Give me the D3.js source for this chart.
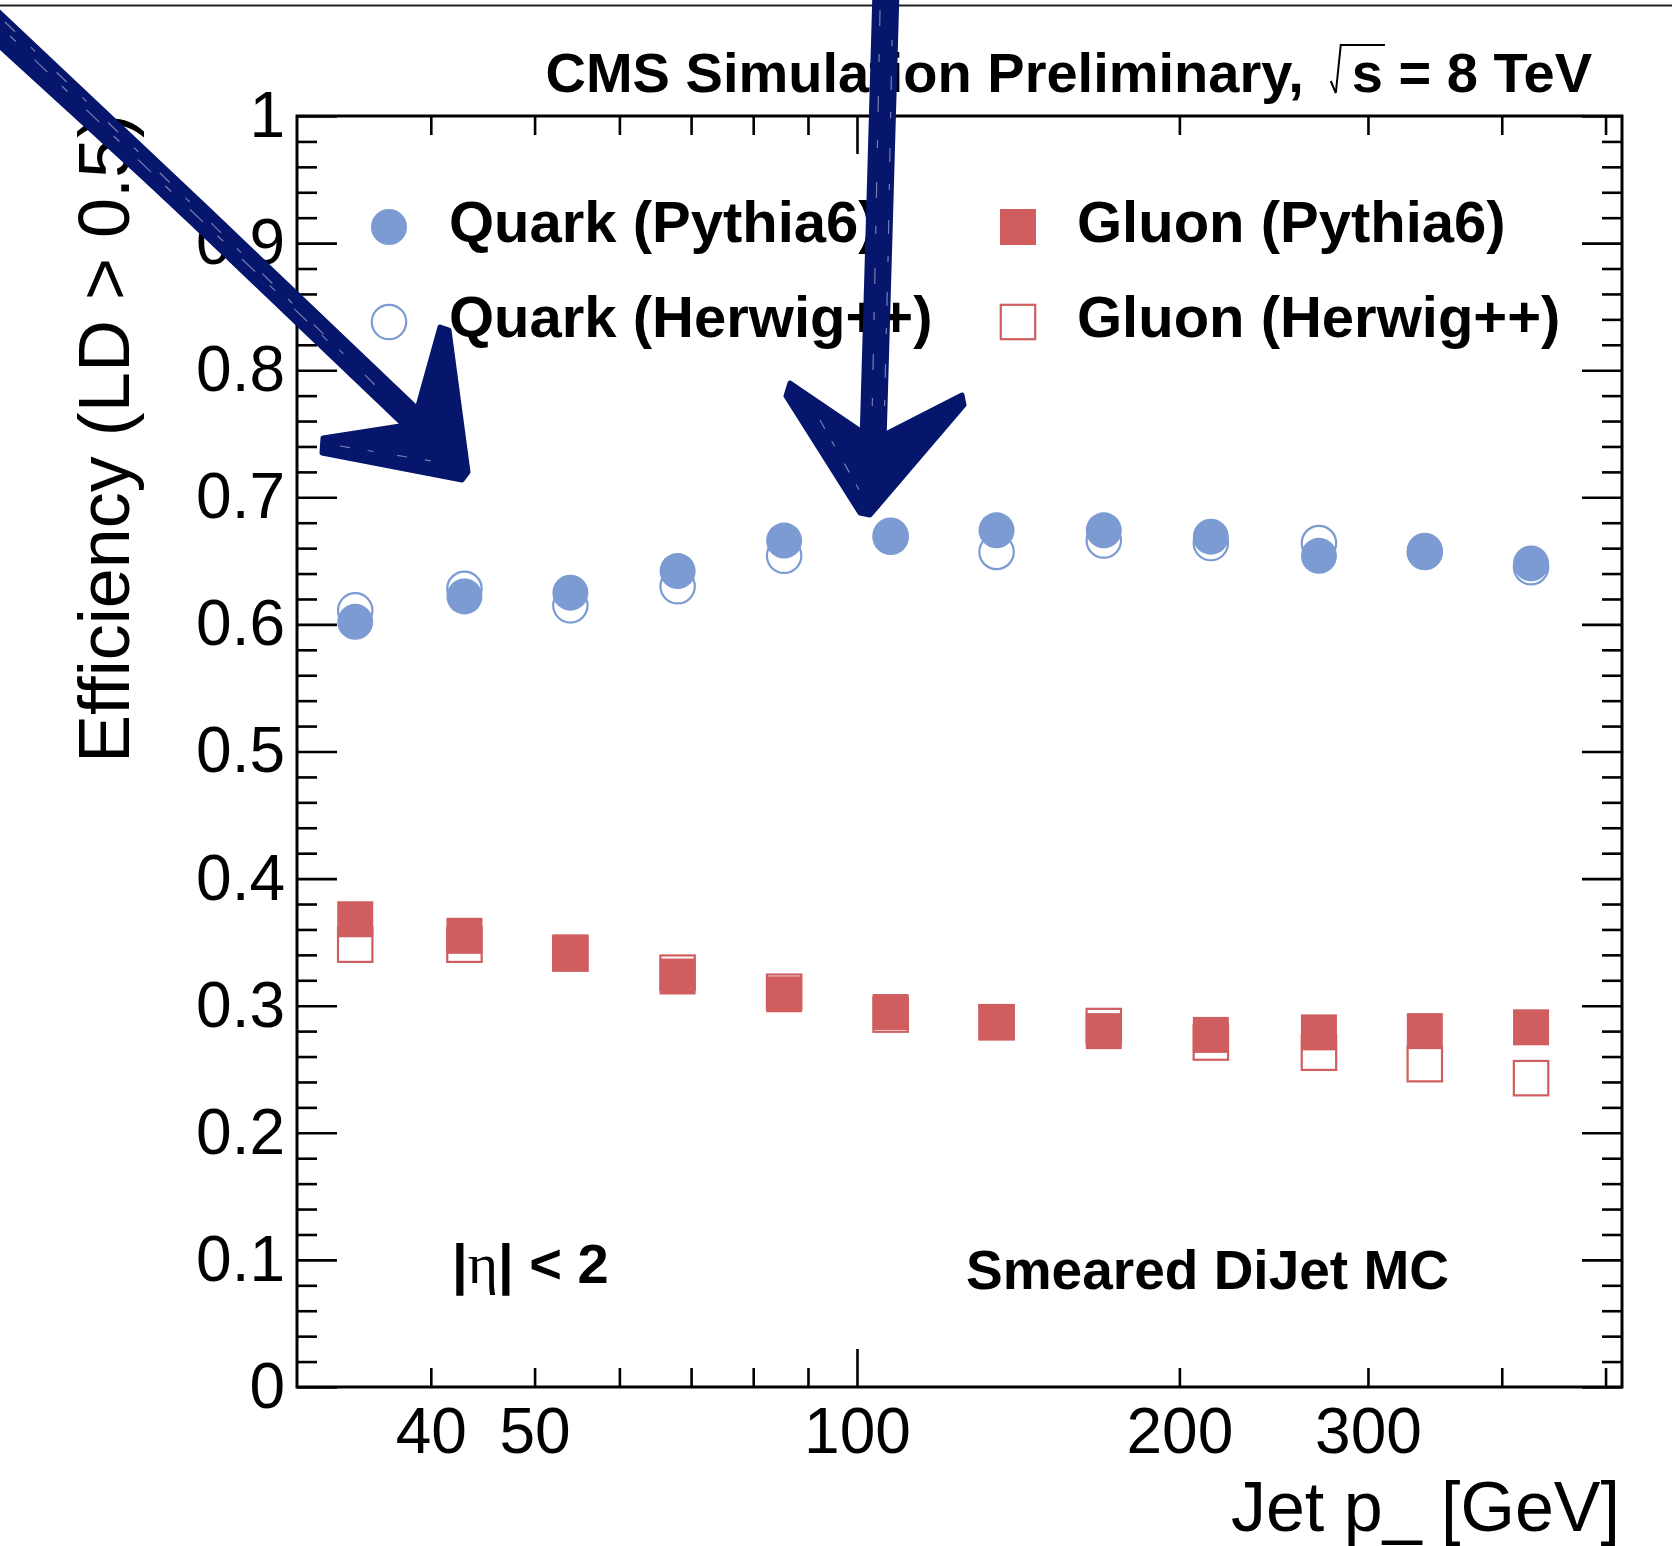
<!DOCTYPE html>
<html>
<head>
<meta charset="utf-8">
<script src="https://cdn.jsdelivr.net/npm/d3@7"></script>
<style>
  html, body { margin: 0; padding: 0; background: #fff; }
  svg { display: block; }
  text { font-family: 'Liberation Sans', Arial, Helvetica, sans-serif; }
</style>
</head>
<body>
<svg width="1672" height="1546"></svg>
<script>
// jet pt bin centres [GeV]
var ptBins = [34, 43, 54, 68, 85.5, 107.5, 135, 170, 214, 270, 339, 426]

// efficiency LD > 0.5
var quarkPythia = [0.602, 0.622, 0.625, 0.642, 0.666, 0.670, 0.674, 0.674, 0.669, 0.654, 0.658, 0.648]
var quarkHerwig = [0.611, 0.628, 0.615, 0.630, 0.654, 0.669, 0.657, 0.666, 0.664, 0.664, 0.657, 0.645]
var gluonPythia = [0.368, 0.355, 0.342, 0.323, 0.309, 0.295, 0.287, 0.280, 0.277, 0.279, 0.280, 0.283]
var gluonHerwig = [0.348, 0.348, 0.341, 0.326, 0.311, 0.293, 0.287, 0.284, 0.271, 0.263, 0.254, 0.243]

var legendNames = ['Quark (Pythia6)', 'Quark (Herwig++)', 'Gluon (Pythia6)', 'Gluon (Herwig++)']

var xMinorTicks = [40, 50, 60, 70, 80, 90, 200, 300, 400, 500]
var xMajorTicks = [100]
var xLabelled = [40, 50, 100, 200, 300]
var yMajorTicks = d3.range(0, 11).map(function (i) { return i / 10 })
var yMinorTicks = d3.range(0, 51).map(function (i) { return i / 50 }).filter(function (d, i) { return i % 5 !== 0 })

;(function (d3) {
  var svg = d3.select('svg')
  var blue = '#7b9bd2'
  var red = '#d05e5f'
  var navy = '#05166c'

  var L = 297, R = 1622, T = 116, B = 1387

  var x = d3.scaleLog().domain([30, 518]).range([L, R])
  var y = d3.scaleLinear().domain([0, 1]).range([B, T])

  // thin rule across the top of the picture
  svg.append('line')
    .attr('x1', 0).attr('x2', 1672).attr('y1', 5.5).attr('y2', 5.5)
    .style('stroke', '#222').style('stroke-width', 2)

  function styleAxis (g) {
    g.select('.domain').remove()
    g.selectAll('line').style('stroke', '#000').style('stroke-width', 2.6)
    g.selectAll('text').style('font-size', '64px').style('fill', '#000')
      .style('font-family', "'Liberation Sans', Arial, sans-serif")
  }

  // y axes (left labelled, right mirrored)
  svg.append('g').attr('transform', 'translate(' + L + ',0)')
    .call(d3.axisLeft(y).tickValues(yMajorTicks).tickSize(-40).tickPadding(12)
      .tickFormat(function (d) { return d === 0 ? '0' : d === 1 ? '1' : d3.format('.1f')(d) }))
    .call(styleAxis)
  svg.append('g').attr('transform', 'translate(' + L + ',0)')
    .call(d3.axisLeft(y).tickValues(yMinorTicks).tickSize(-20).tickFormat(''))
    .call(styleAxis)
  svg.append('g').attr('transform', 'translate(' + R + ',0)')
    .call(d3.axisRight(y).tickValues(yMajorTicks).tickSize(-40).tickFormat(''))
    .call(styleAxis)
  svg.append('g').attr('transform', 'translate(' + R + ',0)')
    .call(d3.axisRight(y).tickValues(yMinorTicks).tickSize(-20).tickFormat(''))
    .call(styleAxis)

  // x axes (bottom labelled, top mirrored)
  function xFmt (d) { return xLabelled.indexOf(d) >= 0 ? String(d) : '' }
  svg.append('g').attr('transform', 'translate(0,' + B + ')')
    .call(d3.axisBottom(x).tickValues(xMinorTicks).tickSize(-19).tickPadding(21).tickFormat(xFmt))
    .call(styleAxis)
  svg.append('g').attr('transform', 'translate(0,' + B + ')')
    .call(d3.axisBottom(x).tickValues(xMajorTicks).tickSize(-38).tickPadding(21).tickFormat(xFmt))
    .call(styleAxis)
  svg.append('g').attr('transform', 'translate(0,' + T + ')')
    .call(d3.axisTop(x).tickValues(xMinorTicks).tickSize(-19).tickFormat(''))
    .call(styleAxis)
  svg.append('g').attr('transform', 'translate(0,' + T + ')')
    .call(d3.axisTop(x).tickValues(xMajorTicks).tickSize(-38).tickFormat(''))
    .call(styleAxis)

  // frame
  svg.append('rect')
    .attr('x', L).attr('y', T).attr('width', R - L).attr('height', B - T)
    .style('fill', 'none').style('stroke', '#000').style('stroke-width', 3)

  // axis titles
  svg.append('text')
    .attr('transform', 'translate(129,114) rotate(-90)')
    .style('text-anchor', 'end').style('font-size', '72px')
    .text('Efficiency (LD > 0.5)')
  svg.append('text')
    .attr('x', 1620).attr('y', 1531)
    .style('text-anchor', 'end').style('font-size', '70px')
    .text('Jet p_ [GeV]')

  // header
  var hdrB = svg.append('text')
    .attr('x', 1592).attr('y', 92)
    .style('text-anchor', 'end').style('font-size', '56px').style('font-weight', 'bold')
    .text('s = 8 TeV')
  var sx = hdrB.node().getStartPositionOfChar(0).x
  var sEnd = hdrB.node().getEndPositionOfChar(0).x
  svg.append('path')
    .attr('d', d3.line()([[sx - 21, 81], [sx - 16, 93], [sx - 11, 45], [sEnd + 2, 45]]))
    .style('fill', 'none').style('stroke', '#000').style('stroke-width', 2)
  svg.append('text')
    .attr('x', sx - 48).attr('y', 92)
    .style('text-anchor', 'end').style('font-size', '56px').style('font-weight', 'bold')
    .text('CMS Simulation Preliminary,')

  // in-plot labels
  var eta = svg.append('text')
    .attr('x', 452).attr('y', 1283)
    .style('font-size', '56px').style('font-weight', 'bold')
  eta.append('tspan').text('|')
  eta.append('tspan').style('font-family', "'Liberation Serif', 'DejaVu Serif', serif")
    .style('font-weight', 'normal').style('font-size', '58px').text('η')
  eta.append('tspan').text('| < 2')
  svg.append('text')
    .attr('x', 966).attr('y', 1289)
    .style('font-size', '55px').style('font-weight', 'bold')
    .text('Smeared DiJet MC')

  // series, open (Herwig) drawn first, filled (Pythia) on top
  var series = [
    {name: legendNames[1], vals: quarkHerwig, shape: 'circle', filled: false, color: blue},
    {name: legendNames[3], vals: gluonHerwig, shape: 'square', filled: false, color: red},
    {name: legendNames[0], vals: quarkPythia, shape: 'circle', filled: true, color: blue},
    {name: legendNames[2], vals: gluonPythia, shape: 'square', filled: true, color: red}
  ]

  function drawMarker (sel, s) {
    if (s.shape === 'circle') {
      sel.append('circle')
        .attr('r', s.filled ? 18 : 17.2)
        .style('fill', s.filled ? s.color : 'none')
        .style('stroke', s.filled ? 'none' : s.color)
        .style('stroke-width', 2.2)
    } else {
      var h = s.filled ? 18 : 17.2
      sel.append('rect')
        .attr('x', -h).attr('y', -h).attr('width', 2 * h).attr('height', 2 * h)
        .style('fill', s.filled ? s.color : 'none')
        .style('stroke', s.filled ? 'none' : s.color)
        .style('stroke-width', 2.2)
    }
  }

  series.forEach(function (s) {
    svg.append('g').selectAll('g')
      .data(s.vals)
      .enter().append('g')
      .attr('transform', function (d, i) { return 'translate(' + x(ptBins[i]) + ',' + y(d) + ')' })
      .each(function () { drawMarker(d3.select(this), s) })
  })

  // legend
  var legendPos = [
    {s: series[2], mx: 389, tx: 449, by: 242},
    {s: series[0], mx: 389, tx: 449, by: 337},
    {s: series[3], mx: 1018, tx: 1077, by: 242},
    {s: series[1], mx: 1018, tx: 1077, by: 337}
  ]
  legendPos.forEach(function (p) {
    var g = svg.append('g').attr('transform', 'translate(' + p.mx + ',' + (p.by - 15) + ')')
    drawMarker(g, p.s)
    svg.append('text')
      .attr('x', p.tx).attr('y', p.by)
      .style('font-size', '58px').style('font-weight', 'bold')
      .text(p.s.name)
  })

  // hand-drawn arrows on top
  var arrows = svg.append('g')
  function shaft (pts, w) {
    arrows.append('path').attr('d', d3.line()(pts))
      .style('fill', 'none').style('stroke', navy).style('stroke-width', w)
      .style('stroke-linecap', 'round')
  }
  function head (pts) {
    arrows.append('path').attr('d', d3.line()(pts) + 'Z')
      .style('fill', navy).style('stroke', navy).style('stroke-width', 5)
      .style('stroke-linejoin', 'round')
  }
  function scratch (pts, dash) {
    arrows.append('path').attr('d', d3.line()(pts))
      .style('fill', 'none').style('stroke', '#fff').style('stroke-width', 1.2)
      .style('stroke-opacity', 0.45).style('stroke-dasharray', dash)
  }
  shaft([[-10, 18], [200, 216], [418, 424]], 26)
  shaft([[-10, 30], [150, 176], [300, 316]], 16)
  head([[323, 438], [413, 424], [440, 327], [449, 330], [468, 472], [462, 480], [322, 453]])
  scratch([[5, 22], [200, 212], [380, 390]], '14 22 6 30')
  scratch([[10, 36], [180, 200], [330, 343]], '8 26 18 20')
  scratch([[340, 446], [450, 464]], '10 18 6 24')

  shaft([[886, -10], [880, 200], [873, 442]], 27)
  head([[790, 383], [874, 440], [962, 395], [964, 405], [870, 515], [860, 513], [786, 396]])
  scratch([[880, 10], [876, 220], [872, 420]], '16 28 8 34')
  scratch([[892, 40], [888, 260], [884, 430]], '6 30 14 22')
  scratch([[820, 420], [862, 495]], '10 14 6 20')
})(window.d3)
</script>
</body>
</html>
